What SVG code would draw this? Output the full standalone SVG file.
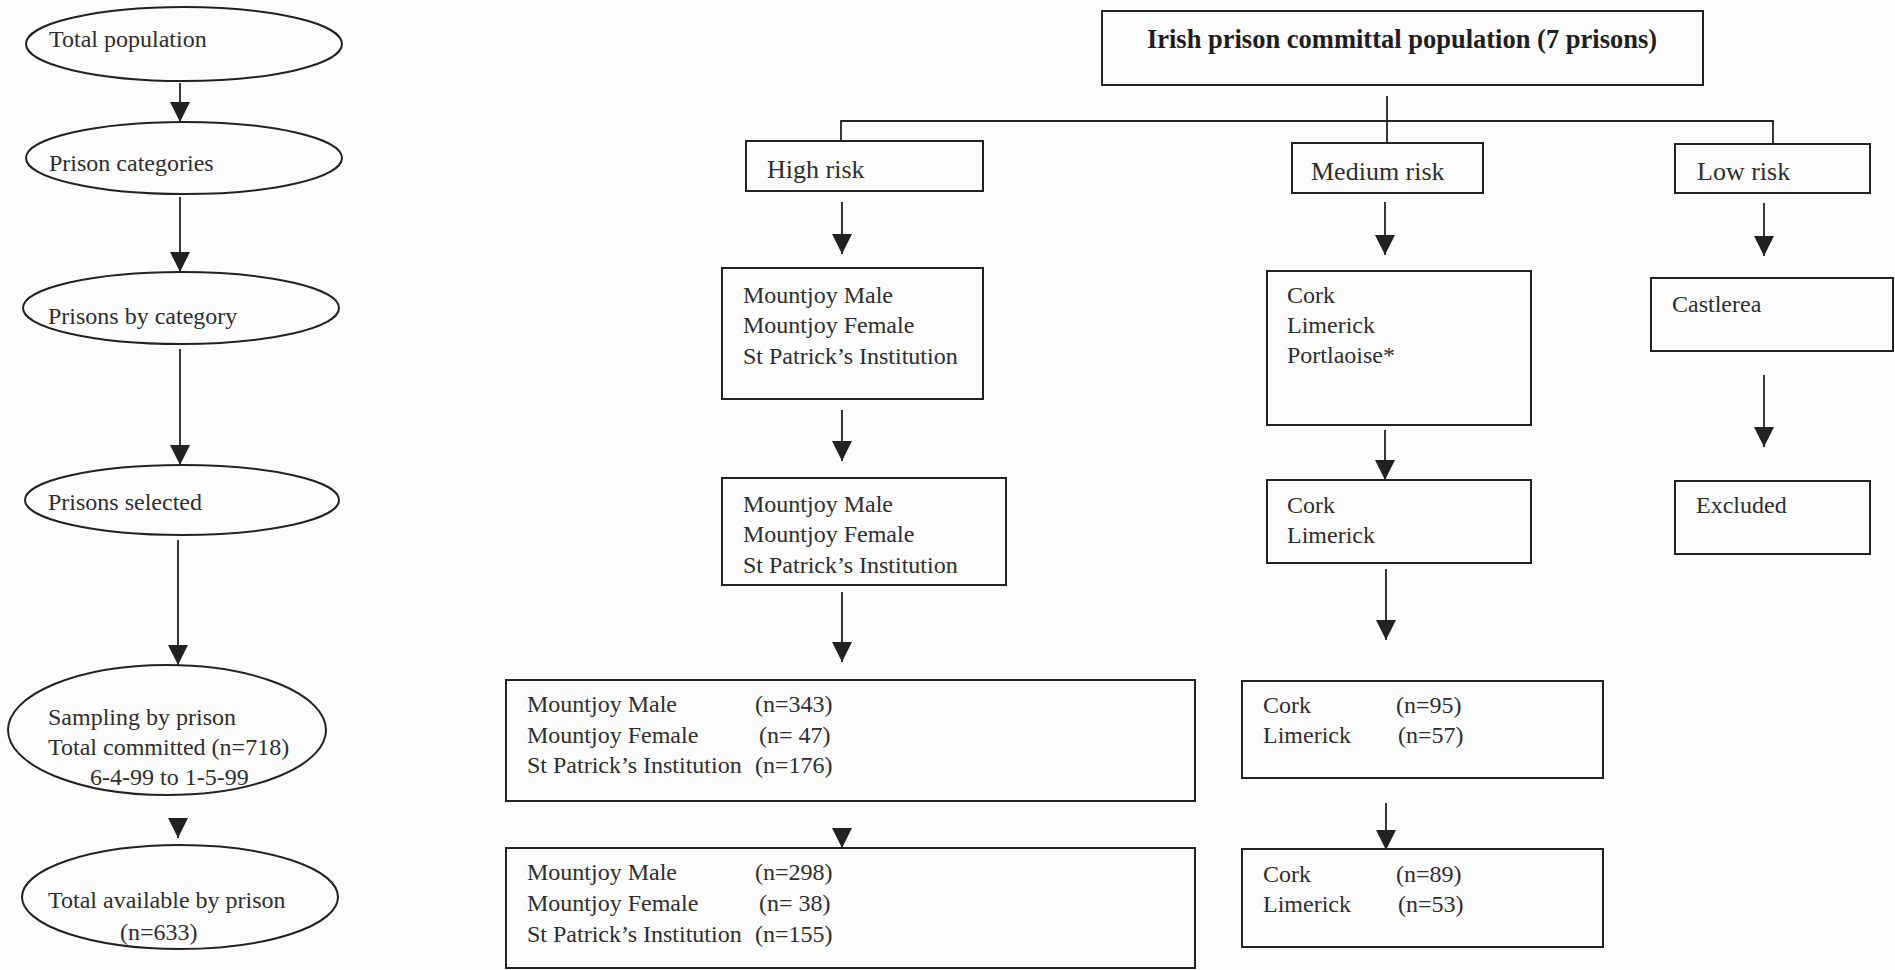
<svg xmlns="http://www.w3.org/2000/svg" width="1895" height="970" viewBox="0 0 1895 970">
<defs>
<style>
.bg{fill:#fcfcfc}
.node{fill:none;stroke:#222;stroke-width:2}
.t{font-family:"Liberation Serif","Times New Roman",serif;font-size:24px;fill:#2e2e2e}
.r{font-size:26px}
.b{font-family:"Liberation Serif","Times New Roman",serif;font-size:26.5px;font-weight:bold;fill:#1e1e1e}
.c{fill:none;stroke:#222;stroke-width:1.8}
</style>
<marker id="ah" markerUnits="userSpaceOnUse" markerWidth="20" markerHeight="20" viewBox="0 0 20 20" refX="20" refY="10" orient="auto">
<path d="M0,0 L20,10 L0,20 z" fill="#222"/>
</marker>
</defs>
<rect class="bg" x="0" y="0" width="1895" height="970"/>

<g id="connectors">
<line class="c" x1="180" y1="83" x2="180" y2="122" marker-end="url(#ah)"/>
<line class="c" x1="180" y1="197" x2="180" y2="272" marker-end="url(#ah)"/>
<line class="c" x1="180" y1="349" x2="180" y2="465" marker-end="url(#ah)"/>
<line class="c" x1="178" y1="540" x2="178" y2="665" marker-end="url(#ah)"/>
<line class="c" x1="178" y1="818" x2="178" y2="838" marker-end="url(#ah)"/>
<line class="c" x1="1387" y1="96" x2="1387" y2="143"/>
<polyline class="c" points="841,141 841,121 1773,121 1773,144"/>
<line class="c" x1="842" y1="202" x2="842" y2="254" marker-end="url(#ah)"/>
<line class="c" x1="842" y1="410" x2="842" y2="461" marker-end="url(#ah)"/>
<line class="c" x1="842" y1="592" x2="842" y2="662" marker-end="url(#ah)"/>
<line class="c" x1="842" y1="828" x2="842" y2="848" marker-end="url(#ah)"/>
<line class="c" x1="1385" y1="202" x2="1385" y2="255" marker-end="url(#ah)"/>
<line class="c" x1="1385" y1="430" x2="1385" y2="480" marker-end="url(#ah)"/>
<line class="c" x1="1386" y1="569" x2="1386" y2="640" marker-end="url(#ah)"/>
<line class="c" x1="1386" y1="803" x2="1386" y2="850" marker-end="url(#ah)"/>
<line class="c" x1="1764" y1="203" x2="1764" y2="256" marker-end="url(#ah)"/>
<line class="c" x1="1764" y1="375" x2="1764" y2="447" marker-end="url(#ah)"/>
</g>

<g id="total-population">
<ellipse class="node" cx="184" cy="44" rx="158" ry="37"/>
<text class="t" x="49" y="47">Total population</text>
</g>
<g id="prison-categories">
<ellipse class="node" cx="184" cy="158" rx="158" ry="36"/>
<text class="t" x="49" y="171">Prison categories</text>
</g>
<g id="prisons-by-category">
<ellipse class="node" cx="181" cy="308" rx="158" ry="36"/>
<text class="t" x="48" y="324">Prisons by category</text>
</g>
<g id="prisons-selected">
<ellipse class="node" cx="182" cy="500" rx="157" ry="35"/>
<text class="t" x="48" y="510">Prisons selected</text>
</g>
<g id="sampling-by-prison">
<ellipse class="node" cx="167" cy="730" rx="159" ry="65"/>
<text class="t" x="48" y="725">Sampling by prison</text>
<text class="t" x="48" y="755">Total committed (n=718)</text>
<text class="t" x="90" y="785">6-4-99 to 1-5-99</text>
</g>
<g id="total-available">
<ellipse class="node" cx="180" cy="897" rx="158" ry="52"/>
<text class="t" x="48" y="908">Total available by prison</text>
<text class="t" x="120" y="940">(n=633)</text>
</g>

<g id="irish-prison-population">
<rect class="node" x="1102" y="11" width="601" height="74"/>
<text class="b" x="1402" y="48" text-anchor="middle">Irish prison committal population (7 prisons)</text>
</g>
<g id="high-risk">
<rect class="node" x="746" y="141" width="237" height="50"/>
<text class="t r" x="767" y="178">High risk</text>
</g>
<g id="medium-risk">
<rect class="node" x="1292" y="143" width="191" height="50"/>
<text class="t r" x="1311" y="180">Medium risk</text>
</g>
<g id="low-risk">
<rect class="node" x="1675" y="144" width="195" height="49"/>
<text class="t r" x="1697" y="180">Low risk</text>
</g>

<g id="high-prisons">
<rect class="node" x="722" y="268" width="261" height="131"/>
<text class="t" x="743" y="303">Mountjoy Male</text>
<text class="t" x="743" y="333">Mountjoy Female</text>
<text class="t" x="743" y="364">St Patrick’s Institution</text>
</g>
<g id="high-selected">
<rect class="node" x="722" y="478" width="284" height="107"/>
<text class="t" x="743" y="512">Mountjoy Male</text>
<text class="t" x="743" y="542">Mountjoy Female</text>
<text class="t" x="743" y="573">St Patrick’s Institution</text>
</g>
<g id="high-sampled">
<rect class="node" x="506" y="680" width="689" height="121"/>
<text class="t" x="527" y="712">Mountjoy Male</text>
<text class="t" x="755" y="712">(n=343)</text>
<text class="t" x="527" y="743">Mountjoy Female</text>
<text class="t" x="759" y="743">(n= 47)</text>
<text class="t" x="527" y="773">St Patrick’s Institution</text>
<text class="t" x="755" y="773">(n=176)</text>
</g>
<g id="high-available">
<rect class="node" x="506" y="848" width="689" height="120"/>
<text class="t" x="527" y="880">Mountjoy Male</text>
<text class="t" x="755" y="880">(n=298)</text>
<text class="t" x="527" y="911">Mountjoy Female</text>
<text class="t" x="759" y="911">(n= 38)</text>
<text class="t" x="527" y="942">St Patrick’s Institution</text>
<text class="t" x="755" y="942">(n=155)</text>
</g>

<g id="medium-prisons">
<rect class="node" x="1267" y="271" width="264" height="154"/>
<text class="t" x="1287" y="303">Cork</text>
<text class="t" x="1287" y="333">Limerick</text>
<text class="t" x="1287" y="363">Portlaoise*</text>
</g>
<g id="medium-selected">
<rect class="node" x="1267" y="480" width="264" height="83"/>
<text class="t" x="1287" y="513">Cork</text>
<text class="t" x="1287" y="543">Limerick</text>
</g>
<g id="medium-sampled">
<rect class="node" x="1242" y="681" width="361" height="97"/>
<text class="t" x="1263" y="713">Cork</text>
<text class="t" x="1396" y="713">(n=95)</text>
<text class="t" x="1263" y="743">Limerick</text>
<text class="t" x="1398" y="743">(n=57)</text>
</g>
<g id="medium-available">
<rect class="node" x="1242" y="849" width="361" height="98"/>
<text class="t" x="1263" y="882">Cork</text>
<text class="t" x="1396" y="882">(n=89)</text>
<text class="t" x="1263" y="912">Limerick</text>
<text class="t" x="1398" y="912">(n=53)</text>
</g>

<g id="castlerea">
<rect class="node" x="1651" y="278" width="242" height="73"/>
<text class="t" x="1672" y="312">Castlerea</text>
</g>
<g id="excluded">
<rect class="node" x="1675" y="481" width="195" height="73"/>
<text class="t" x="1696" y="513">Excluded</text>
</g>
</svg>
